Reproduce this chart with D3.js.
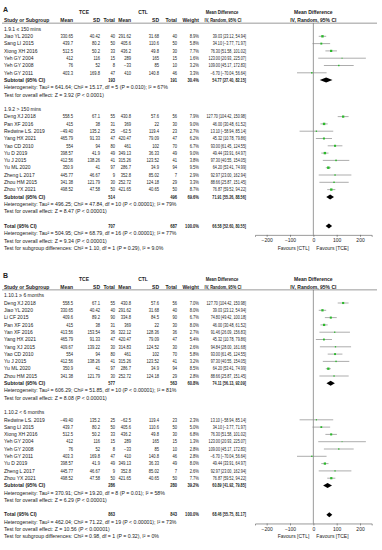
<!DOCTYPE html>
<html>
<head>
<meta charset="utf-8">
<script src="https://cdn.jsdelivr.net/npm/d3@7"></script>
<style>
  body { margin: 0; background: #fff; }
  svg text { font-family: "Liberation Sans", Arial, sans-serif; fill: #222; }
</style>
</head>
<body>
<svg id="chart"></svg>
<script>
// study, TCE mean, SD, total, CTL mean, SD, total, weight %, MD, lower, upper
var studiesA1 = [
    ["Jiao YL 2020", "330.65", "40.42", 40, "291.62", "31.68", 40, 8.9, 39.03, 23.12, 54.94],
    ["Sang LI 2015", "439.7", "80.2", 50, "405.6", "110.6", 50, 5.8, 34.10, -3.77, 71.97],
    ["Xiong XH 2016", "512.5", "50.2", 33, "436.2", "49.8", 30, 7.7, 76.30, 51.58, 101.02],
    ["Yeh GY 2004", "412", "116", 15, "289", "165", 15, 1.6, 123.00, 20.93, 225.07],
    ["Yeh GY 2008", "76", "52", 8, "\u221233", "85", 10, 3.2, 109.00, 45.17, 172.83],
    ["Yeh GY 2011", "403.3", "169.8", 47, "410", "140.8", 46, 3.3, -6.70, -70.04, 56.64]
];
var subtotalA1 = [193, 191, 30.4, 54.77, 27.40, 82.15];
var notesA1 = [
    "Heterogeneity: Tau\u00b2 = 641.64; Chi\u00b2 = 15.17, df = 5 (P = 0.010); I\u00b2 = 67%",
    "Test for overall effect: Z = 3.92 (P < 0.0001)"
];

var studiesA2 = [
    ["Deng XJ 2018", "558.5", "67.1", 55, "430.8", "57.6", 56, 7.9, 127.70, 104.42, 150.98],
    ["Pan XF 2016", "415", "38", 31, "369", "22", 30, 9.0, 46.00, 30.48, 61.52],
    ["Redwine LS. 2019", "\u221249.40", "135.2", 25, "\u221262.5", "119.4", 23, 2.7, 13.10, -58.94, 85.14],
    ["Yang HX 2021", "465.79", "91.33", 47, "420.47", "79.09", 47, 6.2, 45.32, 10.78, 79.86],
    ["Yao CD 2010", "554", "94", 80, "461", "102", 70, 6.7, 93.00, 61.45, 124.55],
    ["Yu D 2019", "398.57", "41.9", 49, "349.13", "36.33", 49, 9.0, 49.44, 33.91, 64.97],
    ["Yu J 2015", "412.56", "138.26", 41, "315.26", "123.52", 41, 3.8, 97.30, 40.55, 154.05],
    ["Yu ML 2020", "350.9", "41", 97, "286.7", "34.9", 94, 9.5, 64.20, 53.41, 74.99],
    ["Zheng L 2017", "445.77", "46.67", 9, "352.8", "85.02", 7, 2.9, 92.97, 23.00, 162.94],
    ["Zhou HM 2015", "341.38", "121.79", 30, "252.72", "124.18", 29, 3.3, 88.66, 25.87, 151.45],
    ["Zhou YX 2021", "498.52", "47.58", 50, "421.65", "40.65", 50, 8.7, 76.87, 59.52, 94.22]
];
var subtotalA2 = [514, 496, 69.6, 71.91, 55.26, 88.56];
var notesA2 = [
    "Heterogeneity: Tau\u00b2 = 496.25; Chi\u00b2 = 47.84, df = 10 (P < 0.00001); I\u00b2 = 79%",
    "Test for overall effect: Z = 8.47 (P < 0.00001)"
];
var totalA = [707, 687, 100.0, 66.58, 52.60, 80.55];
var totalNotesA = [
    "Heterogeneity: Tau\u00b2 = 504.95; Chi\u00b2 = 68.79, df = 16 (P < 0.00001); I\u00b2 = 77%",
    "Test for overall effect: Z = 9.34 (P < 0.00001)",
    "Test for subgroup differences: Chi\u00b2 = 1.10, df = 1 (P = 0.29), I\u00b2 = 9.0%"
];

var studiesB1 = [
    ["Deng XJ 2018", "558.5", "67.1", 55, "430.8", "57.6", 56, 7.0, 127.70, 104.42, 150.98],
    ["Jiao YL 2020", "330.65", "40.42", 40, "291.62", "31.68", 40, 8.0, 39.03, 23.12, 54.94],
    ["Li CF 2015", "409.6", "89.2", 90, "334.8", "84.5", 90, 6.7, 74.80, 49.42, 100.18],
    ["Pan XF 2016", "415", "38", 31, "369", "22", 30, 8.0, 46.00, 30.48, 61.52],
    ["Yan XF 2016", "413.56", "153.54", 36, "322.12", "128.36", 36, 2.7, 91.46, 26.09, 156.83],
    ["Yang HX 2021", "465.79", "91.33", 47, "420.47", "79.09", 47, 5.4, 45.32, 10.78, 79.86],
    ["Yang XJ 2015", "409.67", "139.22", 30, "314.83", "124.52", 30, 2.6, 94.84, 28.00, 161.68],
    ["Yao CD 2010", "554", "94", 80, "461", "102", 70, 5.8, 93.00, 61.45, 124.55],
    ["Yu J 2015", "412.56", "138.26", 41, "315.26", "123.52", 41, 3.2, 97.30, 40.55, 154.05],
    ["Yu ML 2020", "350.9", "41", 97, "286.7", "34.9", 94, 8.5, 64.20, 53.41, 74.99],
    ["Zhou HM 2015", "341.38", "121.79", 30, "252.72", "124.18", 29, 2.8, 88.66, 25.87, 151.45]
];
var subtotalB1 = [577, 563, 60.8, 74.11, 56.13, 92.09];
var notesB1 = [
    "Heterogeneity: Tau\u00b2 = 606.29; Chi\u00b2 = 51.85, df = 10 (P < 0.00001); I\u00b2 = 81%",
    "Test for overall effect: Z = 8.08 (P < 0.00001)"
];

var studiesB2 = [
    ["Redwine LS. 2019", "\u221249.40", "135.2", 25, "\u221262.5", "119.4", 23, 2.3, 13.10, -58.94, 85.14],
    ["Sang LI 2015", "439.7", "80.2", 50, "405.6", "110.6", 50, 5.0, 34.10, -3.77, 71.97],
    ["Xiong XH 2016", "512.5", "50.2", 33, "436.2", "49.8", 30, 6.8, 76.30, 51.58, 101.02],
    ["Yeh GY 2004", "412", "116", 15, "289", "165", 15, 1.3, 123.00, 20.93, 225.07],
    ["Yeh GY 2008", "76", "52", 8, "\u221233", "85", 10, 2.8, 109.00, 45.17, 172.83],
    ["Yeh GY 2011", "403.3", "169.8", 47, "410", "140.8", 46, 2.8, -6.70, -70.04, 56.64],
    ["Yu D 2019", "398.57", "41.9", 49, "349.13", "36.33", 49, 8.0, 49.44, 33.91, 64.97],
    ["Zheng L 2017", "445.77", "46.67", 9, "352.8", "85.02", 7, 2.6, 92.97, 23.00, 162.94],
    ["Zhou YX 2021", "498.52", "47.58", 50, "421.65", "40.65", 50, 7.7, 76.87, 59.52, 94.22]
];
var subtotalB2 = [286, 280, 39.2, 60.89, 41.92, 79.85];
var notesB2 = [
    "Heterogeneity: Tau\u00b2 = 370.91; Chi\u00b2 = 19.20, df = 8 (P = 0.01); I\u00b2 = 58%",
    "Test for overall effect: Z = 6.29 (P < 0.00001)"
];
var totalB = [863, 843, 100.0, 68.46, 55.75, 81.17];
var totalNotesB = [
    "Heterogeneity: Tau\u00b2 = 462.04; Chi\u00b2 = 71.22, df = 19 (P < 0.00001); I\u00b2 = 73%",
    "Test for overall effect: Z = 10.56 (P < 0.00001)",
    "Test for subgroup differences: Chi\u00b2 = 0.98, df = 1 (P = 0.32), I\u00b2 = 0%"
];

var axisTicks = [-200, -100, 0, 100, 200];

var W = 382, H = 550;
var pitch = 7.3;
var fs = 5, fsNote = 5.2;
var green = "#2cb82c", grey = "#8a8a8a";

var svg = d3.select("#chart").attr("width", W).attr("height", H);
svg.append("rect").attr("width", W).attr("height", H).attr("fill", "#fff");

var x = d3.scaleLinear().domain([-250, 250]).range([255, 371.7]);
var fmt2 = d3.format(".2f"), fmt1 = d3.format(".1f");

// right edges of the table columns
var col = { tceMean: 73, tceSD: 100, tceN: 115, ctlMean: 131, ctlSD: 159, ctlN: 177, weight: 199, ci: 246 };
var ciSqueeze = 0.75, numSqueeze = 0.82;

function ciText(md, lo, hi) {
    return fmt2(md) + " [" + fmt2(lo) + ", " + fmt2(hi) + "]";
}

function txt(g, xx, yy, s, opts) {
    opts = opts || {};
    var t = g.append("text")
        .attr("dy", "0.35em")
        .attr("text-anchor", opts.anchor || "start")
        .attr("font-size", opts.size || fs)
        .attr("font-weight", opts.bold ? "bold" : null)
        .text(s);
    if (opts.sx) {
        t.attr("transform", "translate(" + xx + "," + yy + ") scale(" + opts.sx + ",1)");
    } else {
        t.attr("x", xx).attr("y", yy);
    }
    return t;
}

function num(g, xx, yy, s, bold) {
    return txt(g, xx, yy, s, { anchor: "end", bold: bold, sx: numSqueeze });
}

function diamond(g, yy, md, lo, hi) {
    var h = 2.5;
    g.append("path")
        .attr("d", "M" + x(lo) + "," + yy + "L" + x(md) + "," + (yy - h) + "L" + x(hi) + "," + yy + "L" + x(md) + "," + (yy + h) + "Z")
        .attr("fill", "#000");
}

function drawPanel(p) {
    var g = svg.append("g");
    var rows = [];
    p.groups.forEach(function (grp) {
        rows.push({ type: "label", text: grp.label });
        grp.rows.forEach(function (r) { rows.push({ type: "study", d: r }); });
        rows.push({ type: "subtotal", d: grp.sub });
        grp.notes.forEach(function (t) { rows.push({ type: "note", text: t }); });
        rows.push({ type: "blank" });
    });
    var totalIndex = rows.length;
    rows.push({ type: "total", d: p.total });
    p.totalNotes.forEach(function (t) { rows.push({ type: "note", text: t }); });

    var y = d3.scaleLinear().domain([0, 1]).range([p.top, p.top + pitch]);
    var lineY = y(-0.8);
    var axisY = y(totalIndex + 1.2);

    // panel letter and headers
    g.append("text").attr("x", 3).attr("y", y(-2.7)).attr("dy", "0.35em")
        .attr("font-family", "Liberation Serif, serif").attr("font-weight", "bold")
        .attr("font-size", 7).text(p.letter);
    txt(g, 84, y(-2.3), "TCE", { anchor: "middle", bold: true });
    txt(g, 143, y(-2.3), "CTL", { anchor: "middle", bold: true });
    txt(g, 222, y(-2.3), "Mean Difference", { anchor: "middle", bold: true, sx: 0.85 });
    txt(g, x(0), y(-2.3), "Mean Difference", { anchor: "middle", bold: true });
    var hy = y(-1.2);
    txt(g, 4, hy, "Study or Subgroup", { bold: true });
    txt(g, col.tceMean, hy, "Mean", { anchor: "end", bold: true });
    txt(g, col.tceSD, hy, "SD", { anchor: "end", bold: true });
    txt(g, col.tceN, hy, "Total", { anchor: "end", bold: true });
    txt(g, col.ctlMean, hy, "Mean", { anchor: "end", bold: true });
    txt(g, col.ctlSD, hy, "SD", { anchor: "end", bold: true });
    txt(g, col.ctlN, hy, "Total", { anchor: "end", bold: true });
    txt(g, col.weight, hy, "Weight", { anchor: "end", bold: true });
    txt(g, 223, hy, "IV, Random, 95% CI", { anchor: "middle", bold: true, sx: 0.8 });
    txt(g, x(0), hy, "IV, Random, 95% CI", { anchor: "middle", bold: true });

    g.append("line").attr("x1", 2).attr("x2", 377).attr("y1", lineY).attr("y2", lineY)
        .attr("stroke", "#555").attr("stroke-width", 0.6);
    g.append("line").attr("x1", x(0)).attr("x2", x(0)).attr("y1", lineY).attr("y2", axisY)
        .attr("stroke", "#555").attr("stroke-width", 0.6);

    rows.forEach(function (r, i) {
        var yy = y(i);
        if (r.type === "label") {
            txt(g, 4, yy, r.text);
        } else if (r.type === "note") {
            txt(g, 4, yy, r.text, { size: fsNote });
        } else if (r.type === "study") {
            var d = r.d;
            txt(g, 4, yy, d[0]);
            num(g, col.tceMean, yy, d[1]);
            num(g, col.tceSD, yy, d[2]);
            num(g, col.tceN, yy, d[3]);
            num(g, col.ctlMean, yy, d[4]);
            num(g, col.ctlSD, yy, d[5]);
            num(g, col.ctlN, yy, d[6]);
            num(g, col.weight, yy, fmt1(d[7]) + "%");
            txt(g, col.ci, yy, ciText(d[8], d[9], d[10]), { anchor: "end", sx: ciSqueeze });
            g.append("line").attr("x1", x(d[9])).attr("x2", x(d[10]))
                .attr("y1", yy).attr("y2", yy)
                .attr("stroke", grey).attr("stroke-width", 0.7);
            var s = 0.8 * Math.sqrt(d[7]);
            g.append("rect").attr("x", x(d[8]) - s / 2).attr("y", yy - s / 2)
                .attr("width", s).attr("height", s).attr("fill", green);
        } else if (r.type === "subtotal" || r.type === "total") {
            var t = r.d;
            txt(g, 4, yy, r.type === "total" ? "Total (95% CI)" : "Subtotal (95% CI)", { bold: true });
            num(g, col.tceN, yy, t[0], true);
            num(g, col.ctlN, yy, t[1], true);
            num(g, col.weight, yy, fmt1(t[2]) + "%", true);
            txt(g, col.ci, yy, ciText(t[3], t[4], t[5]), { anchor: "end", bold: true, sx: ciSqueeze });
            diamond(g, yy, t[3], t[4], t[5]);
        }
    });

    // effect axis
    var axis = d3.axisBottom(x).tickValues(axisTicks).tickSize(2).tickPadding(1.5);
    var ax = g.append("g").attr("transform", "translate(0," + axisY + ")").call(axis);
    ax.select(".domain").attr("stroke", "#555").attr("stroke-width", 0.6);
    ax.selectAll(".tick line").attr("stroke", "#555").attr("stroke-width", 0.6);
    ax.selectAll(".tick text").attr("font-size", fs).attr("fill", "#222")
        .attr("font-family", "Liberation Sans, Arial, sans-serif");
    txt(g, x(0) - 4, axisY + 13, "Favours [CTL]", { anchor: "end" });
    txt(g, x(0) + 3, axisY + 13, "Favours [TCE]");
}

drawPanel({
    letter: "A", top: 29,
    groups: [
        { label: "1.9.1 \u2264 150 mins", rows: studiesA1, sub: subtotalA1, notes: notesA1 },
        { label: "1.9.2 > 150 mins", rows: studiesA2, sub: subtotalA2, notes: notesA2 }
    ],
    total: totalA, totalNotes: totalNotesA
});

drawPanel({
    letter: "B", top: 295.7,
    groups: [
        { label: "1.10.1 \u2265 6 months", rows: studiesB1, sub: subtotalB1, notes: notesB1 },
        { label: "1.10.2 < 6 months", rows: studiesB2, sub: subtotalB2, notes: notesB2 }
    ],
    total: totalB, totalNotes: totalNotesB
});
</script>
</body>
</html>
